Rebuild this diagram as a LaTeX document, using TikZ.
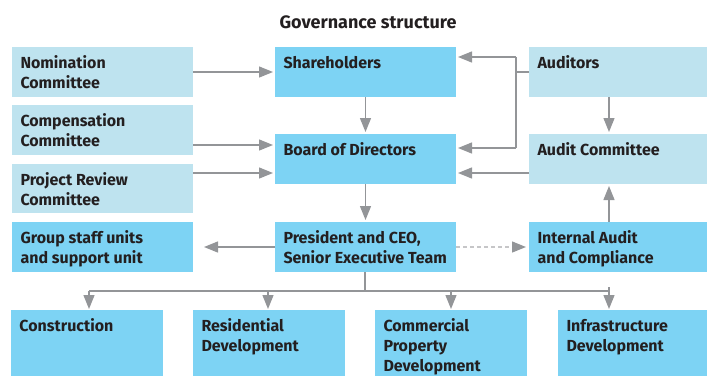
\documentclass[tikz,border=0pt]{standalone}
\usepackage{fontspec}
\setmainfont{Fira Sans}
\usetikzlibrary{arrows.meta}
\definecolor{lb}{HTML}{BEE3EF}
\definecolor{db}{HTML}{7DD3F4}
\definecolor{ag}{HTML}{939598}
\definecolor{dg}{HTML}{C6C6C8}
\definecolor{tx}{HTML}{231F20}
\newcommand\bt[3]{\parbox[t][#2][t]{#1}{\raggedright #3}}
\begin{document}
\begin{tikzpicture}[x=1pt,y=-1pt,
  box/.style={anchor=north west, inner xsep=8.5pt, inner ysep=9pt, outer sep=0pt,
    text=tx, font=\fontsize{16}{20}\selectfont\bfseries},
  lbox/.style={box, fill=lb},
  dbox/.style={box, fill=db},
  arr/.style={draw=ag, line width=1.3pt, -{Triangle[length=14pt,width=11pt,color=ag]}, shorten >=2pt},
  ln/.style={draw=ag, line width=1.3pt},
  dsh/.style={draw=dg, line width=1.3pt, dash pattern=on 4pt off 3pt,
    -{Triangle[length=14pt,width=11pt,color=ag]}, shorten >=3pt}]
\path[use as bounding box] (0,0) rectangle (707,376);

\node[font=\fontsize{18}{20}\selectfont\bfseries, text=tx] (title) at (368,22) {Governance structure};

% left column
\node[lbox] (nom)  at (12,47)  {\bt{164pt}{32pt}{Nomination\\Committee}};
\node[lbox] (comp) at (12,105) {\bt{164pt}{32pt}{Compensation\\Committee}};
\node[lbox] (proj) at (12,164) {\bt{164pt}{31pt}{Project Review\\Committee}};
\node[dbox] (grp)  at (12,222) {\bt{164pt}{32pt}{Group staff units\\and support unit}};

% center column
\node[dbox] (sh)   at (275,47)  {\bt{164pt}{32pt}{Shareholders}};
\node[dbox] (bod)  at (275,134) {\bt{164pt}{32pt}{Board of Directors}};
\node[dbox] (pres) at (275,222) {\bt{164pt}{32pt}{President and CEO,\\Senior Executive Team}};

% right column
\node[lbox] (aud)  at (529,47)  {\bt{161pt}{32pt}{Auditors}};
\node[lbox] (ac)   at (529,134) {\bt{161pt}{32pt}{Audit Committee}};
\node[dbox] (ia)   at (529,222) {\bt{161pt}{32pt}{Internal Audit\\and Compliance}};

% bottom row
\node[dbox] (con)  at (11,310)  {\bt{135pt}{48pt}{Construction}};
\node[dbox] (res)  at (193,310) {\bt{135pt}{48pt}{Residential\\Development}};
\node[dbox] (com)  at (375,310) {\bt{135pt}{48pt}{Commercial\\Property\\Development}};
\node[dbox] (inf)  at (558,310) {\bt{132pt}{48pt}{Infrastructure\\Development}};

% left to center
\draw[arr] (nom.east) -- (sh.west);
\draw[arr] (comp.east |- 0,145) -- (bod.west |- 0,145);
\draw[arr] (proj.east |- 0,173) -- (bod.west |- 0,173);

% center vertical
\draw[arr] (sh.south) -- (bod.north);
\draw[arr] (bod.south) -- (pres.north);

% president sideways
\draw[arr, shorten >=11pt] (pres.west) -- (grp.east);
\draw[dsh] (pres.east) -- (ia.west);

% auditors
\coordinate (j1) at (516,57);
\coordinate (j2) at (516,148);
\draw[ln] (aud.west) -- (aud.west -| j1);
\draw[ln] (j1) -- (j2);
\draw[arr] (j1) -- (j1 -| sh.east);
\draw[arr] (j2) -- (j2 -| bod.east);
\draw[arr] (ac.west |- 0,173) -- (bod.east |- 0,173);
\draw[arr] (aud.south -| 609,0) -- (ac.north -| 609,0);
\draw[arr] (ia.north -| 609,0) -- (ac.south -| 609,0);

% bottom bus
\coordinate (bus) at (365,291);
\coordinate (b1) at (89,291);
\coordinate (b2) at (268,291);
\coordinate (b3) at (451,291);
\coordinate (b4) at (609,291);
\draw[ln] (pres.south -| bus) -- (bus);
\draw[ln] (b1) -- (b4);
\draw[ln] (b4) -- ++(0,-4);
\draw[arr, shorten >=1pt] (b1) -- (b1 |- con.north);
\draw[arr, shorten >=1pt] (b2) -- (b2 |- res.north);
\draw[arr, shorten >=1pt] (b3) -- (b3 |- com.north);
\draw[arr, shorten >=1pt] (b4) -- (b4 |- inf.north);
\end{tikzpicture}
\end{document}
